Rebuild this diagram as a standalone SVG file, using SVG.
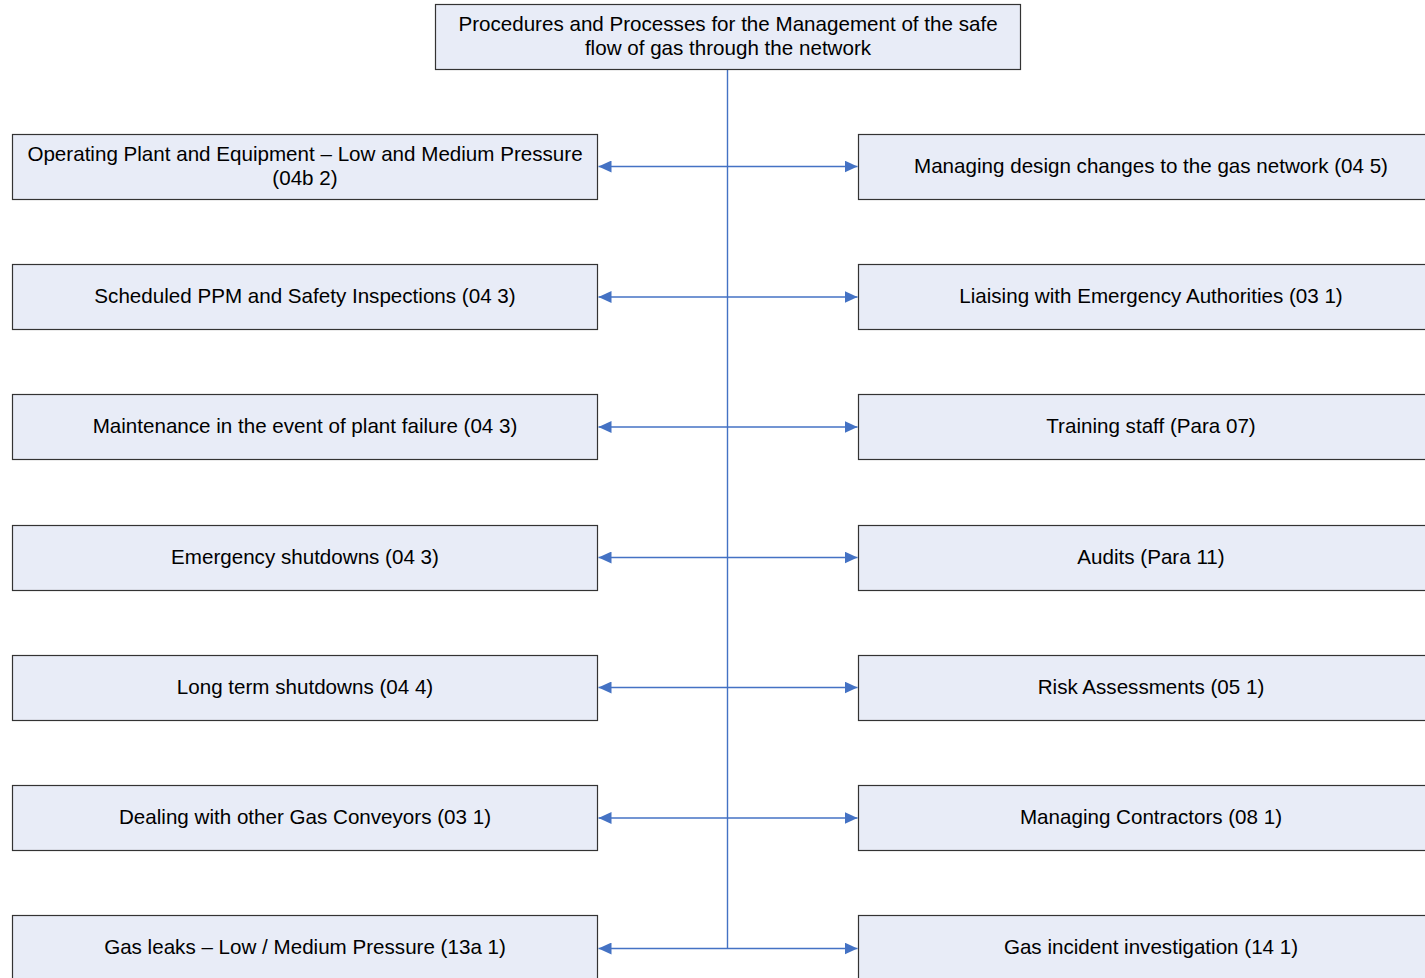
<svg xmlns="http://www.w3.org/2000/svg" width="1425" height="978" viewBox="0 0 1425 978">
  <style>
    .box { fill: #E8ECF7; stroke: #333; stroke-width: 1.2; }
    .lbl { font-family: "Liberation Sans", Arial, sans-serif; font-size: 20.6px; fill: #000; text-anchor: middle; }
    .link { stroke: #4472C4; stroke-width: 1.4; fill: none; }
  </style>
  <defs>
    <marker id="arrow" viewBox="0 0 13 12" refX="13" refY="6" markerWidth="13" markerHeight="12" markerUnits="userSpaceOnUse" orient="auto-start-reverse">
      <path d="M0,0 L13,6 L0,12 Z" fill="#4472C4"/>
    </marker>
  </defs>
  <rect width="1425" height="978" fill="#fff"/>

  <!-- connectors -->
  <g id="connectors">
    <line class="link" x1="727.5" y1="69" x2="727.5" y2="948.5"/>
    <line class="link" x1="598.5" y1="166.5" x2="857.5" y2="166.5" marker-start="url(#arrow)" marker-end="url(#arrow)"/>
    <line class="link" x1="598.5" y1="297" x2="857.5" y2="297" marker-start="url(#arrow)" marker-end="url(#arrow)"/>
    <line class="link" x1="598.5" y1="427" x2="857.5" y2="427" marker-start="url(#arrow)" marker-end="url(#arrow)"/>
    <line class="link" x1="598.5" y1="557.5" x2="857.5" y2="557.5" marker-start="url(#arrow)" marker-end="url(#arrow)"/>
    <line class="link" x1="598.5" y1="687.5" x2="857.5" y2="687.5" marker-start="url(#arrow)" marker-end="url(#arrow)"/>
    <line class="link" x1="598.5" y1="818" x2="857.5" y2="818" marker-start="url(#arrow)" marker-end="url(#arrow)"/>
    <line class="link" x1="598.5" y1="948.5" x2="857.5" y2="948.5" marker-start="url(#arrow)" marker-end="url(#arrow)"/>
  </g>

  <!-- root -->
  <g id="root">
    <rect class="box" x="435.5" y="4.5" width="585" height="65"/>
    <text class="lbl" x="728" y="31">Procedures and Processes for the Management of the safe</text>
    <text class="lbl" x="728" y="55">flow of gas through the network</text>
  </g>

  <!-- left column -->
  <g id="operating-plant">
    <rect class="box" x="12.5" y="134.5" width="585" height="65"/>
    <text class="lbl" x="305" y="161">Operating Plant and Equipment – Low and Medium Pressure</text>
    <text class="lbl" x="305" y="185">(04b 2)</text>
  </g>
  <g id="scheduled-ppm">
    <rect class="box" x="12.5" y="264.5" width="585" height="65"/>
    <text class="lbl" x="305" y="303">Scheduled PPM and Safety Inspections (04 3)</text>
  </g>
  <g id="maintenance">
    <rect class="box" x="12.5" y="394.5" width="585" height="65"/>
    <text class="lbl" x="305" y="433">Maintenance in the event of plant failure (04 3)</text>
  </g>
  <g id="emergency-shutdowns">
    <rect class="box" x="12.5" y="525.5" width="585" height="65"/>
    <text class="lbl" x="305" y="564">Emergency shutdowns (04 3)</text>
  </g>
  <g id="long-term-shutdowns">
    <rect class="box" x="12.5" y="655.5" width="585" height="65"/>
    <text class="lbl" x="305" y="694">Long term shutdowns (04 4)</text>
  </g>
  <g id="gas-conveyors">
    <rect class="box" x="12.5" y="785.5" width="585" height="65"/>
    <text class="lbl" x="305" y="824">Dealing with other Gas Conveyors (03 1)</text>
  </g>
  <g id="gas-leaks">
    <rect class="box" x="12.5" y="915.5" width="585" height="65"/>
    <text class="lbl" x="305" y="954">Gas leaks – Low / Medium Pressure (13a 1)</text>
  </g>

  <!-- right column -->
  <g id="design-changes">
    <rect class="box" x="858.5" y="134.5" width="585" height="65"/>
    <text class="lbl" x="1151" y="173">Managing design changes to the gas network (04 5)</text>
  </g>
  <g id="emergency-authorities">
    <rect class="box" x="858.5" y="264.5" width="585" height="65"/>
    <text class="lbl" x="1151" y="303">Liaising with Emergency Authorities (03 1)</text>
  </g>
  <g id="training">
    <rect class="box" x="858.5" y="394.5" width="585" height="65"/>
    <text class="lbl" x="1151" y="433">Training staff (Para 07)</text>
  </g>
  <g id="audits">
    <rect class="box" x="858.5" y="525.5" width="585" height="65"/>
    <text class="lbl" x="1151" y="564">Audits (Para 11)</text>
  </g>
  <g id="risk-assessments">
    <rect class="box" x="858.5" y="655.5" width="585" height="65"/>
    <text class="lbl" x="1151" y="694">Risk Assessments (05 1)</text>
  </g>
  <g id="contractors">
    <rect class="box" x="858.5" y="785.5" width="585" height="65"/>
    <text class="lbl" x="1151" y="824">Managing Contractors (08 1)</text>
  </g>
  <g id="incident-investigation">
    <rect class="box" x="858.5" y="915.5" width="585" height="65"/>
    <text class="lbl" x="1151" y="954">Gas incident investigation (14 1)</text>
  </g>
</svg>
